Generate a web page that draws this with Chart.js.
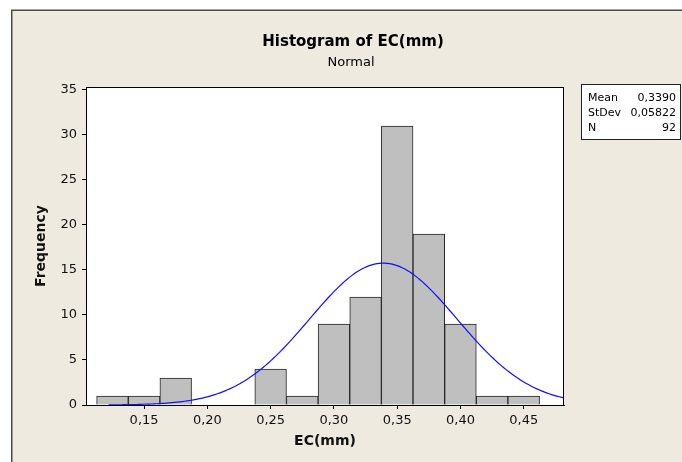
<!DOCTYPE html>
<html>
<head>
<meta charset="utf-8">
<script src="https://cdn.jsdelivr.net/npm/chart.js@4.4.1/dist/chart.umd.min.js"></script>
<style>
  html, body { margin: 0; padding: 0; background: #ffffff; }
  #wrap { position: relative; width: 682px; height: 462px; }
</style>
</head>
<body>
<div id="wrap"><canvas id="histChart" width="682" height="462"></canvas></div>
<script>
// histogram bins (centres, width 0.025) and their counts
const binCenters = [0.125, 0.150, 0.175, 0.200, 0.225, 0.250, 0.275, 0.300, 0.325, 0.350, 0.375, 0.400, 0.425, 0.450];
const binCounts = [1, 1, 3, 0, 0, 4, 1, 9, 12, 31, 19, 9, 1, 1];
const binWidth = 0.025;

// fitted normal parameters shown in the stats box
const statLabels = ['Mean', 'StDev', 'N'];
const statValues = ['0,3390', '0,05822', '92'];
const fitMean = 0.3390;
const fitStDev = 0.05822;
const fitN = 92;

const xTicks = [0.15, 0.20, 0.25, 0.30, 0.35, 0.40, 0.45];
const yTicks = [0, 5, 10, 15, 20, 25, 30, 35];

const FONT = "'DejaVu Sans', Verdana, sans-serif";

// normal density scaled to counts per bin
const curveData = [];
for (let x = 0.122; x <= 0.49; x += 0.002) {
    const z = (x - fitMean) / fitStDev;
    const y = fitN * binWidth / (fitStDev * Math.sqrt(2 * Math.PI)) * Math.exp(-0.5 * z * z);
    curveData.push({ x: x, y: y });
}

const comma = v => v.toFixed(2).replace('.', ',');

const framePlugin = {
    id: 'frame',
    beforeDraw(chart) {
        const c = chart.ctx;
        const a = chart.chartArea;
        c.save();
        c.fillStyle = '#ffffff';
        c.fillRect(0, 0, chart.width, chart.height);
        c.fillStyle = '#eeeae0';
        c.fillRect(12, 10, chart.width, chart.height);
        c.strokeStyle = '#4a4a4a';
        c.lineWidth = 1.5;
        c.beginPath();
        c.moveTo(11.75, chart.height);
        c.lineTo(11.75, 10.25);
        c.lineTo(chart.width, 10.25);
        c.stroke();
        c.fillStyle = '#ffffff';
        c.fillRect(a.left, a.top, a.right - a.left, a.bottom - a.top);
        c.restore();
    },
    afterDraw(chart) {
        const c = chart.ctx;
        const a = chart.chartArea;
        c.save();
        // plot frame
        c.strokeStyle = '#000000';
        c.lineWidth = 1;
        c.strokeRect(a.left + 0.5, a.top + 0.5, a.right - a.left - 1, a.bottom - a.top);

        // titles
        c.fillStyle = '#000000';
        c.textAlign = 'center';
        c.textBaseline = 'middle';
        c.font = 'bold 15px ' + FONT;
        c.fillText('Histogram of EC(mm)', 353, 42);
        c.font = '13px ' + FONT;
        c.fillText('Normal', 351, 63);

        // stats box
        c.fillStyle = '#ffffff';
        c.fillRect(581, 84, 100, 56);
        c.strokeStyle = '#222222';
        c.strokeRect(581.5, 84.5, 99, 55);
        c.fillStyle = '#000000';
        c.font = '11px ' + FONT;
        statLabels.forEach((lab, i) => {
            const y = 98 + i * 15;
            c.textAlign = 'left';
            c.fillText(lab, 588, y);
            c.textAlign = 'right';
            c.fillText(statValues[i], 676, y);
        });
        c.restore();
    }
};

new Chart(document.getElementById('histChart'), {
    data: {
        datasets: [
            {
                type: 'line',
                label: 'Normal fit',
                data: curveData,
                borderColor: '#1010ff',
                borderWidth: 1.2,
                pointRadius: 0,
                tension: 0,
                order: 0
            },
            {
                type: 'bar',
                label: 'EC(mm)',
                data: binCenters.map((x, i) => ({ x: x, y: binCounts[i] })),
                backgroundColor: '#bfbfbf',
                borderColor: '#262626',
                borderWidth: 1,
                borderSkipped: 'bottom',
                barPercentage: 1,
                categoryPercentage: 1,
                order: 1
            }
        ]
    },
    options: {
        responsive: false,
        animation: false,
        layout: {
            padding: { top: 87, right: 118, left: 0, bottom: 0 }
        },
        scales: {
            x: {
                type: 'linear',
                offset: false,
                min: 0.1041,
                max: 0.4818,
                afterFit: s => { s.height = 57; },
                afterBuildTicks: s => { s.ticks = xTicks.map(v => ({ value: v })); },
                grid: {
                    offset: false,
                    drawOnChartArea: false,
                    drawTicks: true,
                    tickLength: 4,
                    color: '#000000'
                },
                border: { color: '#000000' },
                ticks: {
                    color: '#111111',
                    padding: 4,
                    maxRotation: 0,
                    font: { family: FONT, size: 13 },
                    callback: v => comma(v)
                },
                title: {
                    display: true,
                    text: 'EC(mm)',
                    color: '#111111',
                    font: { family: FONT, size: 14, weight: 'bold' },
                    padding: { top: 0, bottom: 12 }
                }
            },
            y: {
                min: 0,
                max: 35.33,
                afterFit: s => { s.width = 86; },
                afterBuildTicks: s => { s.ticks = yTicks.map(v => ({ value: v })); },
                grid: {
                    drawOnChartArea: false,
                    drawTicks: true,
                    tickLength: 4,
                    color: '#000000'
                },
                border: { color: '#000000' },
                ticks: {
                    color: '#111111',
                    padding: 5,
                    font: { family: FONT, size: 13 }
                },
                title: {
                    display: true,
                    text: 'Frequency',
                    color: '#111111',
                    font: { family: FONT, size: 14, weight: 'bold' },
                    padding: { top: 33, bottom: 0 }
                }
            }
        },
        plugins: {
            legend: { display: false },
            tooltip: { enabled: false }
        }
    },
    plugins: [framePlugin]
});
</script>
</body>
</html>
